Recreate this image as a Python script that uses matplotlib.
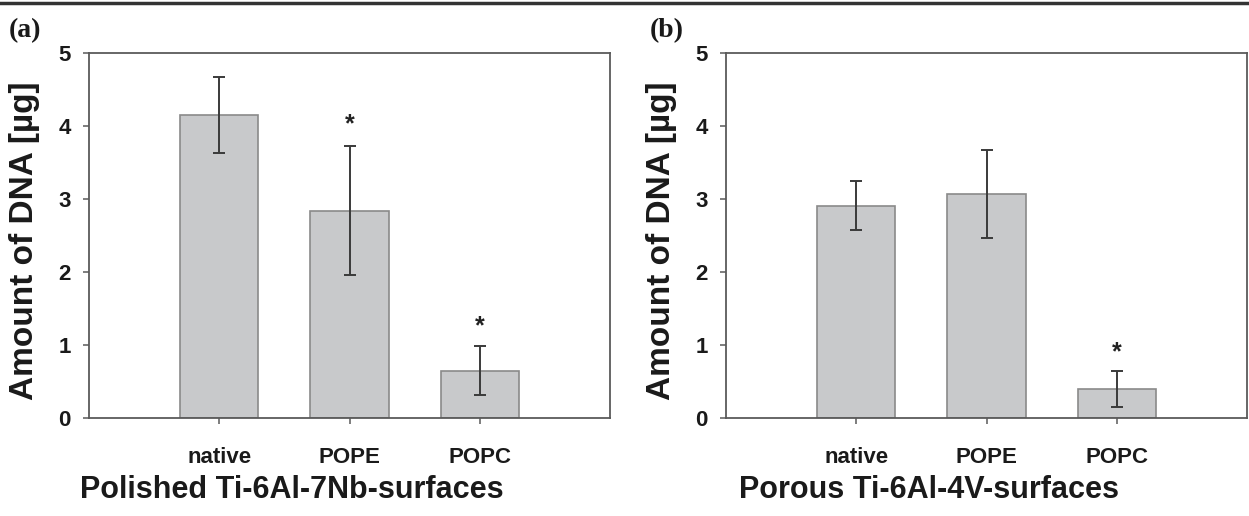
import numpy as np
import matplotlib
matplotlib.use("Agg")
import matplotlib.pyplot as plt
from matplotlib.lines import Line2D

# data
groups = ["native", "POPE", "POPC"]

polished_mean = [4.15, 2.84, 0.65]
polished_err = [0.52, 0.88, 0.33]
polished_star = [None, 4.02, 1.25]

porous_mean = [2.91, 3.07, 0.40]
porous_err = [0.34, 0.60, 0.25]
porous_star = [None, None, 0.90]

titles = ["Polished Ti-6Al-7Nb-surfaces", "Porous Ti-6Al-4V-surfaces"]
panel_tags = ["(a)", "(b)"]

plt.rcParams['font.family'] = ['Liberation Sans', 'DejaVu Sans']

BAR_COLOR = "#c8c9cb"
EDGE = "#8a8a8a"
FRAME = "#5a5a5a"
TXT = "#1a1a1a"

fig = plt.figure(figsize=(12.49, 5.16), dpi=100)
ax_a = fig.add_axes([0.0713, 0.1899, 0.4171, 0.7074])
ax_b = fig.add_axes([0.5813, 0.1899, 0.4171, 0.7074])

# thick rule along the top
fig.add_artist(Line2D([0, 1], [1 - 3 / 516] * 2, color="#333333", lw=2.5,
                      transform=fig.transFigure))

x = np.arange(len(groups))
panels = [(ax_a, polished_mean, polished_err, polished_star),
          (ax_b, porous_mean, porous_err, porous_star)]

for i, (ax, mean, err, star) in enumerate(panels):
    ax.bar(x, mean, width=0.6, color=BAR_COLOR, edgecolor=EDGE, linewidth=1.2, zorder=2)
    ax.errorbar(x, mean, yerr=err, fmt="none", ecolor="#3a3a3a", elinewidth=1.4,
                capsize=4.5, capthick=1.4, zorder=3)
    for xi, s in zip(x, star):
        if s is not None:
            ax.text(xi, s, "*", ha="center", va="center", fontsize=18,
                    color="#222222", fontweight="bold")

    ax.set_xlim(-1, 3)
    ax.set_ylim(0, 5)
    ax.set_yticks([0, 1, 2, 3, 4, 5])
    ax.set_xticks(x)
    ax.set_xticklabels(groups)
    for side in ["top", "right", "left", "bottom"]:
        ax.spines[side].set_color(FRAME)
        ax.spines[side].set_linewidth(1.3)
    ax.tick_params(axis="both", direction="out", length=4, width=1.1, color=FRAME,
                   labelsize=16, labelcolor=TXT)
    ax.tick_params(axis="x", pad=17)
    ax.tick_params(axis="y", pad=9)
    for lab in ax.get_xticklabels() + ax.get_yticklabels():
        lab.set_fontweight("bold")

    ax.set_ylabel("Amount of DNA [µg]", fontsize=24, fontweight="bold", color=TXT)
    ax.yaxis.set_label_coords(-0.123, 0.485)
    ax.yaxis.label.set_va("center")
    ax.set_xlabel(titles[i], fontsize=22, fontweight="bold", color=TXT)
    ax.xaxis.set_label_coords(0.39, -0.197)
    ax.xaxis.label.set_va("center")

    # panel tag in serif
    tag_x = [9 / 1249, 650 / 1249][i]
    fig.text(tag_x, 1 - 31 / 516, panel_tags[i], fontsize=20, fontweight="bold",
             family=["Liberation Serif", "DejaVu Serif"], va="center", ha="left",
             color=TXT)

fig.savefig("out.png", dpi=100)
